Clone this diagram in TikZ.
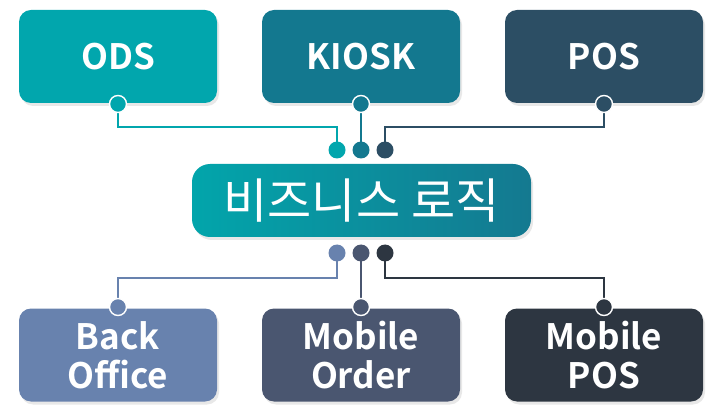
\documentclass[tikz,border=0pt]{standalone}
\usepackage{fontspec}
\setmainfont{Noto Sans CJK KR}[BoldFont={Noto Sans CJK KR Bold}]
\usetikzlibrary{shadows,calc}
\definecolor{cods}{HTML}{01A6AD}
\definecolor{ckiosk}{HTML}{13788F}
\definecolor{cpos}{HTML}{2C4E64}
\definecolor{cback}{HTML}{6882AE}
\definecolor{corder}{HTML}{4A5670}
\definecolor{cmpos}{HTML}{2D3641}
\definecolor{cgradA}{HTML}{02A5AB}
\definecolor{cgradB}{HTML}{147990}
\pgfdeclarelayer{bg}
\pgfsetlayers{bg,main}
\tikzset{
  box/.style={rounded corners=12pt, minimum width=198pt, minimum height=93pt,
    text=white, font=\bfseries\fontsize{35}{43}\selectfont, align=center, inner sep=0pt,
    drop shadow={opacity=0.18, shadow xshift=2pt, shadow yshift=-3pt}},
  port/.style={circle, draw=white, line width=1.4pt, minimum size=17pt, inner sep=0pt},
  dot/.style={circle, minimum size=17pt, inner sep=0pt},
  wire/.style={line width=2.4pt}
}
\begin{document}
\begin{tikzpicture}[x=1pt,y=-1pt]
\useasboundingbox (0,0) rectangle (719,411);
% top boxes
\node[box, fill=cods] (ods) at (118,56.5) {ODS};
\node[box, fill=ckiosk] (kiosk) at (361,56.5) {KIOSK};
\node[box, fill=cpos] (pos) at (604,56.5) {POS};
% bottom boxes
\node[box, fill=cback] (back) at (118,355) {Back\\[-4pt]Office};
\node[box, fill=corder] (order) at (361,355) {Mobile\\[-4pt]Order};
\node[box, fill=cmpos] (mpos) at (604,355) {Mobile\\[-4pt]POS};
% center
\node[rounded corners=18pt, minimum width=339pt, minimum height=73pt, inner sep=0pt,
  left color=cgradA, right color=cgradB, text=white,
  font=\fontsize{48}{50}\selectfont,
  drop shadow={opacity=0.18, shadow xshift=2pt, shadow yshift=-3pt}] (biz) at (361.5,200.5) {비즈니스 로직};
% ports on boxes
\node[port, fill=cods] (pods) at (118,104) {};
\node[port, fill=ckiosk] (pkiosk) at (361,104) {};
\node[port, fill=cpos] (ppos) at (604,104) {};
\node[port, fill=cback] (pback) at (118,307) {};
\node[port, fill=corder] (porder) at (361,307) {};
\node[port, fill=cmpos] (pmpos) at (604,307) {};
% dots near center
\node[dot, fill=cods] (t1) at (337,150) {};
\node[dot, fill=ckiosk] (t2) at (361,150) {};
\node[dot, fill=cpos] (t3) at (385,150) {};
\node[dot, fill=cback] (b1) at (337,253) {};
\node[dot, fill=corder] (b2) at (361,253) {};
\node[dot, fill=cmpos] (b3) at (385,253) {};
\begin{pgfonlayer}{bg}
\draw[wire, cods] (pods.center) -- (pods.center |- 0,127) -- (t1.center |- 0,127) -- (t1.center);
\draw[wire, ckiosk] (pkiosk.center) -- (t2.center);
\draw[wire, cpos] (ppos.center) -- (ppos.center |- 0,127) -- (t3.center |- 0,127) -- (t3.center);
\draw[wire, cback] (b1.center) -- (b1.center |- 0,278) -- (pback.center |- 0,278) -- (pback.center);
\draw[wire, corder] (b2.center) -- (porder.center);
\draw[wire, cmpos] (b3.center) -- (b3.center |- 0,278) -- (pmpos.center |- 0,278) -- (pmpos.center);
\end{pgfonlayer}
\end{tikzpicture}
\end{document}
